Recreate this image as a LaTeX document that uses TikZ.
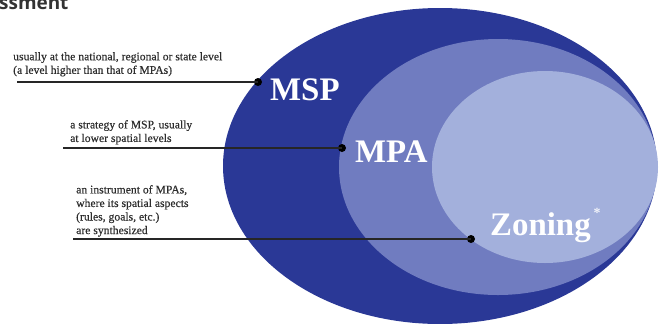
\documentclass[tikz,border=0pt]{standalone}
\usepackage{fontspec}
\setmainfont{Liberation Serif}
\newfontfamily\notefont{Liberation Serif}[FakeBold=0.4]
\newfontfamily\headfont{Open Sans}
\usetikzlibrary{shapes.geometric}
\definecolor{mspblue}{RGB}{42,56,150}
\definecolor{mpablue}{RGB}{112,124,192}
\definecolor{zoneblue}{RGB}{163,176,220}
\definecolor{notegray}{RGB}{45,45,45}
\tikzset{
  area/.style={ellipse, draw=none, inner sep=0pt},
  note/.style={anchor=north west, inner sep=0pt, align=left, text=notegray,
    font=\notefont\fontsize{11.7}{13.6}\selectfont},
  biglabel/.style={anchor=base west, inner sep=0pt, text=white,
    font=\bfseries\fontsize{33}{36}\selectfont},
  pin/.style={circle, fill=black, inner sep=0pt, minimum size=8bp},
  leader/.style={draw=black!85, line width=1.3bp}
}
\begin{document}
\begin{tikzpicture}[x=1bp,y=-1bp]
  \useasboundingbox (0,0) rectangle (665,323);
  \clip (0,0) rectangle (665,323);

  % heading, cut at the top edge
  \node[anchor=base west, inner sep=0pt, text=black!80,
        font=\headfont\bfseries\fontsize{19}{22}\selectfont] (head) at (-1,9) {ssment};

  % nested areas
  \node[area, fill=mspblue, minimum width=434bp, minimum height=316bp] (msp) at (440,166) {};
  \node[area, fill=mpablue, minimum width=318bp, minimum height=256bp] (mpa) at (498,167) {};
  \node[area, fill=zoneblue, minimum width=226bp, minimum height=192bp] (zone) at (545,167) {};

  % area names
  \node[biglabel] (lmsp) at (270,100) {MSP};
  \node[biglabel] (lmpa) at (355,162) {MPA};
  \node[biglabel] (lzone) at (490,235) {Zoning};
  \node[anchor=center, inner sep=0pt, text=white!85!zoneblue,
        font=\bfseries\fontsize{14}{14}\selectfont] (star) at (597,213) {*};

  % explanatory notes
  \node[note] (n1) at (13,52) {usually at the national, regional or state level\\(a level higher than that of MPAs)};
  \node[note] (n2) at (70,120) {a strategy of MSP, usually\\at lower spatial levels};
  \node[note] (n3) at (76,185) {an instrument of MPAs,\\where its spatial aspects\\(rules, goals, etc.)\\are synthesized};

  % leader lines ending in pins
  \coordinate (s1) at (17,82);
  \coordinate (s2) at (63,148);
  \coordinate (s3) at (73,239);
  \node[pin] (p1) at (258,82) {};
  \node[pin] (p2) at (342,148) {};
  \node[pin] (p3) at (471,239) {};
  \draw[leader] (s1) -- (p1.center);
  \draw[leader] (s2) -- (p2.center);
  \draw[leader] (s3) -- (p3.center);
\end{tikzpicture}
\end{document}
